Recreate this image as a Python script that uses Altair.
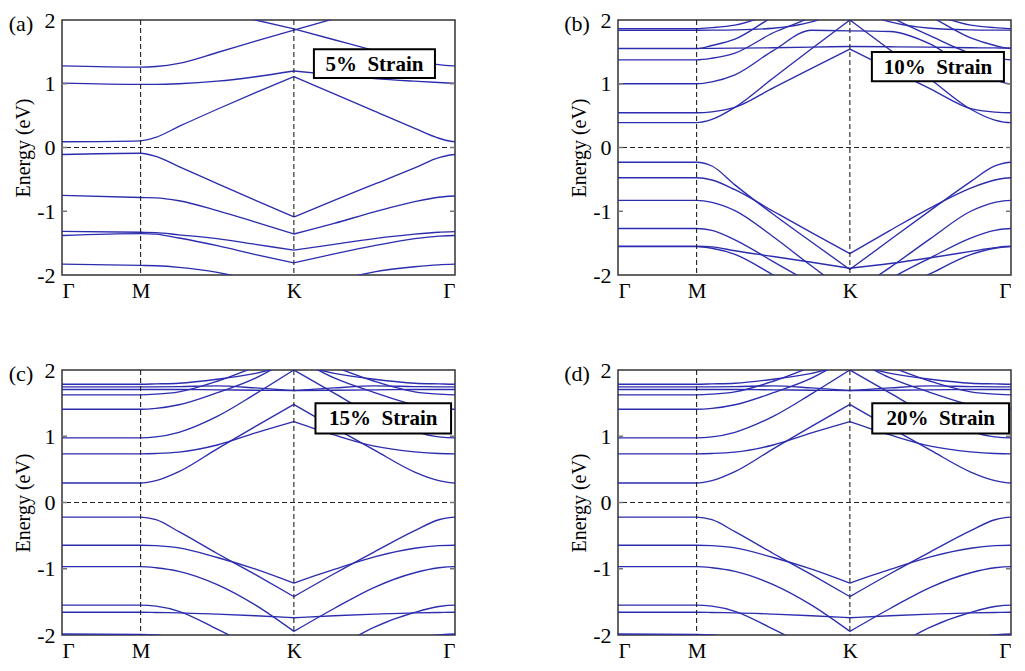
import altair as alt
import pandas as pd

# ---------------- data ----------------
KPOINTS = [0.0, 0.2, 0.59, 1.0]          # Γ, M, K, Γ positions along the path
KLABELS = ["Γ", "M", "K", "Γ"]
FRACS_MK = [0.1, 0.25, 0.5, 0.75]        # sample points inside M-K
FRACS_KG = [0.25, 0.5, 0.75, 0.9]        # sample points inside K-Γ
YTICKS = [-2, -1, 0, 1, 2]

# each band: energies at [Γ, M, MK10, MK25, MK50, MK75, K, KG25, KG50, KG75, KG90, Γ]
BANDS_5 = [
    [1.28, 1.26, 1.27, 1.32, 1.49, 1.67, 1.84, 2.02, 2.2, 2.38, 2.5, 2.55],
    [2.5, 2.5, 2.45, 2.32, 2.15, 2.0, 1.86, 1.69, 1.52, 1.36, 1.30, 1.28],
    [1.01, 0.99, 0.99, 1.0, 1.04, 1.11, 1.20, 1.14, 1.08, 1.04, 1.02, 1.01],
    [0.09, 0.105, 0.16, 0.33, 0.60, 0.86, 1.11, 0.84, 0.57, 0.30, 0.145, 0.09],
    [-0.11, -0.09, -0.14, -0.30, -0.565, -0.83, -1.09, -0.83, -0.575, -0.32, -0.16, -0.11],
    [-0.75, -0.785, -0.79, -0.835, -0.99, -1.17, -1.357, -1.19, -1.01, -0.85, -0.78, -0.76],
    [-1.316, -1.33, -1.335, -1.37, -1.43, -1.52, -1.61, -1.52, -1.43, -1.36, -1.33, -1.32],
    [-1.38, -1.35, -1.36, -1.42, -1.54, -1.68, -1.81, -1.67, -1.54, -1.43, -1.39, -1.38],
    [-1.83, -1.85, -1.855, -1.88, -1.96, -2.1, -2.3, -2.1, -1.95, -1.87, -1.84, -1.83],
]

BANDS_10 = [
    [0.39, 0.39, 0.44, 0.63, 1.09, 1.55, 2.0, 1.53, 1.07, 0.60, 0.43, 0.39],
    [0.545, 0.545, 0.56, 0.63, 0.935, 1.24, 1.544, 1.23, 0.92, 0.61, 0.555, 0.545],
    [1.0, 1.0, 1.03, 1.14, 1.52, 1.84, 1.83, 1.82, 1.62, 1.22, 1.06, 1.0],
    [1.375, 1.375, 1.40, 1.48, 1.8, 2.05, 2.4, 2.05, 1.75, 1.48, 1.40, 1.375],
    [1.55, 1.55, 1.60, 1.70, 2.05, 2.3, 2.5, 2.3, 2.05, 1.72, 1.60, 1.55],
    [1.555, 1.555, 1.556, 1.56, 1.565, 1.575, 1.585, 1.58, 1.575, 1.565, 1.562, 1.56],
    [1.84, 1.84, 1.841, 1.845, 1.87, 1.97, 2.2, 1.97, 1.87, 1.845, 1.841, 1.84],
    [1.865, 1.865, 1.88, 1.92, 2.1, 2.3, 2.5, 2.3, 2.1, 1.92, 1.88, 1.865],
    [-0.231, -0.231, -0.29, -0.586, -1.048, -1.483, -1.913, -1.448, -0.986, -0.535, -0.29, -0.231],
    [-0.474, -0.474, -0.51, -0.662, -1.0, -1.336, -1.665, -1.30, -0.946, -0.636, -0.51, -0.474],
    [-0.829, -0.829, -0.86, -0.99, -1.40, -1.86, -2.3, -1.88, -1.43, -1.0, -0.86, -0.829],
    [-1.27, -1.27, -1.30, -1.448, -1.79, -2.13, -2.45, -2.06, -1.73, -1.42, -1.30, -1.27],
    [-1.549, -1.549, -1.56, -1.62, -1.71, -1.80, -1.894, -1.82, -1.73, -1.63, -1.57, -1.549],
    [-1.555, -1.555, -1.58, -1.676, -2.0, -2.35, -2.7, -2.3, -1.98, -1.68, -1.58, -1.555],
]

BANDS_15 = [
    [0.294, 0.294, 0.33, 0.466, 0.81, 1.15, 1.48, 1.13, 0.79, 0.46, 0.33, 0.294],
    [0.735, 0.735, 0.74, 0.76, 0.868, 1.05, 1.22, 1.02, 0.85, 0.765, 0.74, 0.735],
    [0.975, 0.975, 0.99, 1.06, 1.30, 1.64, 2.0, 1.65, 1.31, 1.07, 0.99, 0.975],
    [1.407, 1.407, 1.42, 1.475, 1.657, 1.878, 2.2, 1.88, 1.66, 1.475, 1.42, 1.407],
    [1.625, 1.625, 1.635, 1.67, 1.83, 2.05, 2.3, 2.05, 1.83, 1.67, 1.635, 1.625],
    [1.705, 1.705, 1.705, 1.705, 1.70, 1.695, 1.69, 1.695, 1.70, 1.705, 1.705, 1.705],
    [1.745, 1.745, 1.746, 1.75, 1.76, 1.73, 1.69, 1.73, 1.76, 1.75, 1.746, 1.745],
    [1.785, 1.785, 1.79, 1.80, 1.86, 1.95, 2.1, 1.95, 1.86, 1.80, 1.79, 1.785],
    [-0.221, -0.221, -0.26, -0.44, -0.77, -1.09, -1.42, -1.075, -0.745, -0.425, -0.26, -0.221],
    [-0.645, -0.645, -0.652, -0.686, -0.83, -1.005, -1.216, -1.01, -0.82, -0.69, -0.652, -0.645],
    [-0.968, -0.968, -0.985, -1.04, -1.24, -1.55, -1.946, -1.60, -1.28, -1.06, -0.985, -0.968],
    [-1.548, -1.548, -1.565, -1.642, -1.912, -2.2, -2.45, -2.2, -1.88, -1.66, -1.57, -1.548],
    [-1.657, -1.657, -1.66, -1.665, -1.685, -1.71, -1.74, -1.71, -1.685, -1.665, -1.66, -1.657],
    [-1.985, -1.99, -2.0, -2.05, -2.2, -2.4, -2.6, -2.4, -2.2, -2.05, -2.0, -1.985],
]

BANDS_20 = [row[:] for row in BANDS_15]   # 20% panel reads the same as 15%

PANELS = [
    ("(a)", "5%\u00a0\u00a0Strain", BANDS_5),
    ("(b)", "10%\u00a0\u00a0Strain", BANDS_10),
    ("(c)", "15%\u00a0\u00a0Strain", BANDS_15),
    ("(d)", "20%\u00a0\u00a0Strain", BANDS_20),
]

# ---------------- styling ----------------
SERIF = "Liberation Serif"
BLUE = "#2c2cae"
W = 393
H_TOP = 255
H_BOT = 265
BOXES = {  # annotation box in data coords: k1, k2, E1, E2
    "(a)": (0.641, 0.949, 1.09, 1.54),
    "(b)": (0.646, 0.982, 1.04, 1.50),
    "(c)": (0.645, 0.990, 1.04, 1.50),
    "(d)": (0.647, 0.995, 1.04, 1.50),
}


def sample_k():
    g, m, k, g2 = KPOINTS
    return ([g, m] + [m + f * (k - m) for f in FRACS_MK] + [k]
            + [k + f * (g2 - k) for f in FRACS_KG] + [g2])


def band_frame(bands):
    ks = sample_k()
    ik = 2 + len(FRACS_MK)          # index of K
    rows = []
    for b, vals in enumerate(bands):
        for i, (kx, e) in enumerate(zip(ks, vals)):
            if i <= ik:
                rows.append(dict(id=f"{b}_0", k=kx, E=e, o=i))
            if i >= ik:
                rows.append(dict(id=f"{b}_1", k=kx, E=e, o=i))
        # repeat the end value just past Γ so the band leaves Γ flat (clipped)
        rows.append(dict(id=f"{b}_1", k=ks[-1] + 0.002, E=vals[-1], o=len(vals)))
    return pd.DataFrame(rows)


label_expr = " : ".join(
    [f"abs(datum.value - {v}) < 0.001 ? '{l}'" for v, l in zip(KPOINTS, KLABELS)]
) + " : ''"

xscale = alt.Scale(domain=[0, 1], nice=False, zero=False)
yscale = alt.Scale(domain=[-2, 2], nice=False, zero=False)

xaxis = alt.Axis(values=KPOINTS, labelExpr=label_expr, title=None, ticks=False,
                 grid=False, domain=False, labelFont=SERIF, labelFontSize=21,
                 labelColor="black", labelPadding=5)
yaxis = alt.Axis(values=YTICKS, title="Energy (eV)", ticks=False, grid=False,
                 domain=False, labelFont=SERIF, labelFontSize=22,
                 labelColor="black", labelPadding=7,
                 labelExpr="replace(datum.label, '\u2212', '-')",
                 titleFont=SERIF, titleFontSize=20, titleFontWeight="normal",
                 titleColor="black", titlePadding=3)


def panel(letter, strain, bands, h):
    df = band_frame(bands)
    x = alt.X("k:Q", scale=xscale, axis=xaxis)
    y = alt.Y("E:Q", scale=yscale, axis=yaxis)
    xm = alt.X("km:Q", scale=xscale, axis=xaxis)
    ym = alt.Y("Em:Q", scale=yscale, axis=yaxis)

    vr = alt.Chart(pd.DataFrame({"k": KPOINTS[1:3]})).mark_rule(
        color="#222", strokeDash=[5, 3], strokeWidth=1.1
    ).encode(x=x)
    hr = alt.Chart(pd.DataFrame({"E": [0]})).mark_rule(
        color="#222", strokeDash=[5, 3], strokeWidth=1.1
    ).encode(y=y)
    tdf = pd.DataFrame({"E": YTICKS[1:-1]})
    tick_l = alt.Chart(tdf).mark_rule(color="#777", strokeWidth=1.5).encode(
        x=alt.value(0), x2=alt.value(5), y=y)
    tick_r = alt.Chart(tdf).mark_rule(color="#777", strokeWidth=1.5).encode(
        x=alt.value(W - 5), x2=alt.value(W), y=y)
    lines = alt.Chart(df).mark_line(
        clip=True, interpolate="monotone", color=BLUE, strokeWidth=1.35
    ).encode(x=x, y=y, detail="id:N", order="o:Q")

    k1, k2, e1, e2 = BOXES[letter]
    bdf = pd.DataFrame({"k": [k1], "k2": [k2], "E": [e1], "E2": [e2],
                        "km": [(k1 + k2) / 2], "Em": [(e1 + e2) / 2],
                        "label": [strain], "t": [letter]})
    rect = alt.Chart(bdf).mark_rect(fill="white", stroke="black",
                                    strokeWidth=2).encode(
        x=x, x2="k2:Q", y=y, y2="E2:Q")
    txt = alt.Chart(bdf).mark_text(font=SERIF, fontWeight="bold", fontSize=21,
                                   color="black", dy=1).encode(
        x=xm, y=ym, text="label:N")
    lab = alt.Chart(bdf).mark_text(
        font=SERIF, fontSize=22, color="black", align="center", baseline="middle"
    ).encode(x=alt.value(-41), y=alt.value(4), text="t:N")

    return alt.layer(lines, vr, hr, tick_l, tick_r, rect, txt, lab).properties(
        width=W, height=h)


pa = panel(*PANELS[0], H_TOP)
pb = panel(*PANELS[1], H_TOP)
pc = panel(*PANELS[2], H_BOT)
pd_ = panel(*PANELS[3], H_BOT)

chart = alt.vconcat(
    alt.hconcat(pa, pb, spacing=106),
    alt.hconcat(pc, pd_, spacing=106),
    spacing=56,
).properties(
    padding={"left": 0, "top": 0, "right": 0, "bottom": 0}
).configure(
    background="white",
    view=alt.ViewConfig(stroke="#333", strokeWidth=1.5),
)

chart.save("out.html", embed_options={"renderer": "svg", "actions": False})
